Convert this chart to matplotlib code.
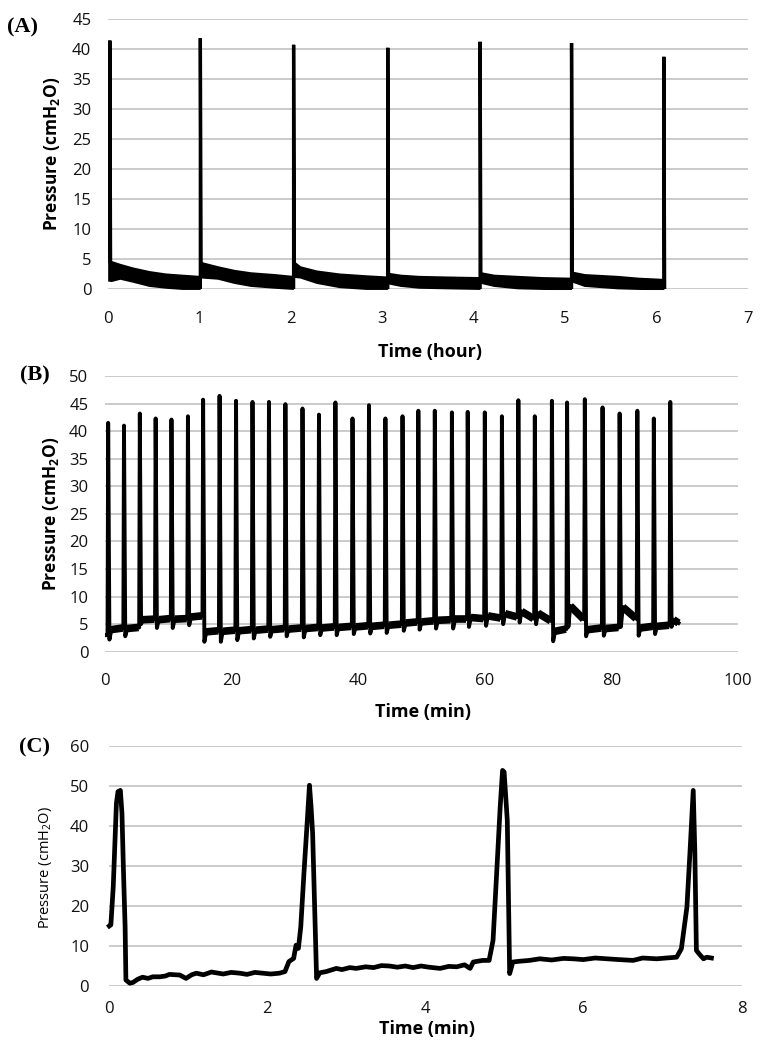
import numpy as np
import matplotlib.pyplot as plt

plt.rcParams['font.family'] = ['Open Sans', 'DejaVu Sans']

# ---- (A) pressure over 6 hours, one spike per hour ----
a_spike_t = [0.02, 1.01, 2.03, 3.06, 4.07, 5.07, 6.08]
a_peak = [41.4, 41.8, 40.7, 40.2, 41.2, 41.0, 38.7]
# noisy baseline after each spike: sample times, upper and lower edge of the trace
a_band_t = [
    [0.03, 0.13, 0.27, 0.45, 0.63, 0.81, 1.00],
    [1.02, 1.20, 1.38, 1.56, 1.82, 2.02],
    [2.04, 2.10, 2.28, 2.53, 2.82, 3.05],
    [3.07, 3.20, 3.40, 3.70, 4.06],
    [4.08, 4.22, 4.48, 4.75, 5.06],
    [5.08, 5.21, 5.57, 5.80, 6.07],
]
a_band_hi = [
    [4.6, 4.1, 3.5, 2.9, 2.5, 2.3, 2.1],
    [4.4, 3.7, 3.1, 2.7, 2.4, 2.1],
    [4.4, 3.7, 3.0, 2.5, 2.2, 2.0],
    [2.6, 2.3, 2.1, 2.0, 1.9],
    [2.7, 2.3, 2.1, 1.9, 1.8],
    [2.8, 2.4, 2.1, 1.8, 1.6],
]
a_band_lo = [
    [1.4, 1.8, 1.3, 0.6, 0.3, 0.1, 0.1],
    [2.0, 1.8, 1.1, 0.6, 0.3, 0.1],
    [2.1, 2.0, 1.1, 0.4, 0.1, 0.1],
    [1.0, 0.6, 0.3, 0.2, 0.1],
    [1.1, 0.6, 0.2, 0.1, 0.05],
    [1.3, 0.6, 0.2, 0.1, 0.05],
]

# ---- (B) 90 min recording, one spike every ~2.6 min ----
b_spike_t = [0.4, 2.9, 5.4, 7.9, 10.4, 13.0, 15.4, 18.0, 20.6, 23.2,
             25.8, 28.4, 31.1, 33.7, 36.3, 39.0, 41.6, 44.2, 46.9, 49.4,
             52.0, 54.7, 57.2, 59.9, 62.6, 65.2, 67.8, 70.5, 72.9, 75.7,
             78.5, 81.2, 84.0, 86.6, 89.2]
b_peak = [41.5, 41.0, 43.2, 42.3, 42.1, 42.7, 45.7, 46.4, 45.5, 45.3,
          45.3, 44.9, 44.1, 43.0, 45.2, 42.3, 44.7, 42.3, 42.7, 43.7,
          43.7, 43.4, 43.5, 43.4, 42.7, 45.6, 42.7, 45.5, 45.2, 45.8,
          44.3, 43.2, 43.7, 42.3, 45.3]
b_dip = [2.2, 2.8, 5.0, 4.3, 4.3, 4.8, 1.8, 1.8, 2.1, 2.4,
         2.7, 2.8, 2.6, 3.0, 3.0, 3.2, 3.3, 3.4, 3.8, 4.0,
         4.2, 4.2, 4.5, 4.7, 5.0, 5.3, 5.0, 1.9, 4.5, 2.8,
         2.9, 4.5, 2.9, 3.2, 4.5]
b_base_start = [4.0, 4.2, 5.8, 5.8, 5.9, 6.3, 3.6, 3.7, 3.8, 3.9,
                4.0, 4.1, 4.2, 4.3, 4.4, 4.5, 4.6, 4.8, 5.2, 5.4,
                5.7, 5.9, 6.2, 6.5, 6.9, 7.3, 7.0, 3.7, 8.3, 4.0,
                4.2, 8.1, 4.3, 4.6, 5.8]
b_base_end = [4.3, 4.4, 5.9, 6.0, 6.0, 6.5, 3.8, 3.9, 4.0, 4.1,
              4.2, 4.3, 4.4, 4.5, 4.6, 4.7, 4.8, 5.0, 5.4, 5.6,
              5.8, 5.9, 6.0, 6.1, 6.3, 6.0, 5.6, 4.1, 5.9, 4.3,
              4.4, 6.0, 4.6, 4.8, 5.2]
b_t_end = 90.7

# ---- (C) 7.6 min close-up ----
c_time = [0.01, 0.03, 0.06, 0.10, 0.12, 0.15, 0.17, 0.19, 0.21, 0.22,
          0.27, 0.31, 0.37, 0.43, 0.50, 0.56, 0.65, 0.72, 0.77, 0.85,
          0.90, 0.98, 1.05, 1.11, 1.20, 1.30, 1.36, 1.45, 1.55, 1.66,
          1.75, 1.85, 1.95, 2.05, 2.16, 2.23, 2.28, 2.34, 2.37, 2.40,
          2.43, 2.47, 2.51, 2.54, 2.56, 2.58, 2.63, 2.67, 2.75, 2.88,
          2.95, 3.05, 3.13, 3.25, 3.35, 3.45, 3.55, 3.65, 3.75, 3.85,
          3.95, 4.05, 4.19, 4.30, 4.40, 4.50, 4.57, 4.61, 4.73, 4.81,
          4.86, 4.91, 4.95, 4.98, 5.00, 5.04, 5.07, 5.11, 5.20, 5.32,
          5.45, 5.60, 5.75, 5.87, 6.00, 6.15, 6.30, 6.45, 6.63, 6.75,
          6.93, 7.05, 7.18, 7.24, 7.31, 7.35, 7.39, 7.41, 7.43, 7.47,
          7.52, 7.56, 7.62]
c_pressure = [15.0, 15.3, 24.8, 45.7, 48.6, 48.9, 43.2, 28.2, 14.8, 1.5,
              0.7, 0.9, 1.7, 2.2, 1.9, 2.3, 2.3, 2.5, 2.9, 2.8,
              2.75, 1.9, 2.8, 3.2, 2.8, 3.5, 3.3, 3.0, 3.4, 3.2,
              2.9, 3.4, 3.2, 3.0, 3.2, 3.6, 6.1, 6.9, 10.2, 9.4,
              14.8, 28.2, 40.6, 50.2, 44.8, 38.1, 1.9, 3.3, 3.6, 4.4,
              4.1, 4.6, 4.4, 4.8, 4.6, 5.1, 5.0, 4.7, 5.0, 4.6,
              5.0, 4.7, 4.4, 4.9, 4.8, 5.3, 4.4, 6.0, 6.4, 6.4,
              11.4, 29.8, 44.7, 53.9, 53.5, 41.4, 3.1, 6.0, 6.2, 6.4,
              6.8, 6.5, 6.9, 6.8, 6.6, 7.0, 6.8, 6.6, 6.4, 7.0,
              6.8, 7.0, 7.2, 9.3, 19.7, 33.9, 48.9, 33.9, 8.9, 7.9,
              6.8, 7.2, 7.0]

W, H = 767, 1050
fig = plt.figure(figsize=(W / 100, H / 100), dpi=100)


def px_axes(left, top, right, bottom):
    # axes from pixel box of the reference
    return fig.add_axes([left / W, 1 - bottom / H, (right - left) / W, (bottom - top) / H])


def style(ax, xmax, xstep, ymax, ystep, xpad, ypad):
    ax.set_xlim(0, xmax)
    ax.set_ylim(0, ymax)
    ax.set_xticks(np.arange(0, xmax + xstep / 2, xstep))
    ax.set_yticks(np.arange(0, ymax + ystep / 2, ystep))
    for s in ax.spines.values():
        s.set_visible(False)
    ax.grid(axis='y', color='#bdbdbd', lw=1.1)
    ax.set_axisbelow(True)
    ax.tick_params(axis='x', length=0, labelsize=12, pad=xpad, colors='#111111')
    ax.tick_params(axis='y', length=0, labelsize=12, pad=ypad, colors='#111111')


ylab = 'Pressure (cmH$_\\mathregular{2}$O)'

# (A)
axA = px_axes(108, 19, 748, 289)
style(axA, 7, 1, 45, 5, 16, 12)
prev_lo = 1.5
for k, s in enumerate(a_spike_t):
    if k < len(a_band_t):
        nxt = a_band_hi[k][0]
    else:
        nxt = 0.0
    axA.plot([s, s, s + 0.008], [prev_lo, a_peak[k], nxt], color='k', lw=2.4, solid_joinstyle='miter')
    if k < len(a_band_t):
        axA.fill_between(a_band_t[k], a_band_lo[k], a_band_hi[k], color='k', lw=1.5, edgecolor='k')
        prev_lo = a_band_lo[k][-1]

# (B)
axB = px_axes(105, 376, 738, 651.7)
style(axB, 100, 20, 50, 5, 15, 12)
bt, bp = [0.15], [3.0]
for k, s in enumerate(b_spike_t):
    t_next = b_spike_t[k + 1] if k + 1 < len(b_spike_t) else b_t_end
    bt += [s, s + 0.1, s + 0.3, s + 0.6, t_next - 0.1]
    bp += [b_base_end[k - 1] if k > 0 else 3.0, b_peak[k], b_dip[k], b_base_start[k], b_base_end[k]]
    # the noisy baseline reads as a thicker band
    axB.plot([s + 0.6, t_next - 0.1], [b_base_start[k], b_base_end[k]], color='k', lw=5.5,
             solid_capstyle='butt')
axB.plot(bt, bp, color='k', lw=2.8, solid_joinstyle='round')

# (C)
axC = px_axes(108.5, 746, 741.5, 986)
style(axC, 8, 2, 60, 10, 11, 14)
axC.plot(c_time, c_pressure, color='k', lw=3.4, solid_joinstyle='round', clip_on=False)

# labels
def ftext(x, y, s, **kw):
    fig.text(x / W, 1 - y / H, s, ha='center', va='center', **kw)


ftext(52, 154, ylab, rotation=90, fontsize=12.5, fontweight='bold')
ftext(51, 514, ylab, rotation=90, fontsize=12.5, fontweight='bold')
ftext(45, 867, ylab, rotation=90, fontsize=10.5)
ftext(430, 352, 'Time (hour)', fontsize=13, fontweight='bold')
ftext(423, 712, 'Time (min)', fontsize=13, fontweight='bold')
ftext(427, 1029, 'Time (min)', fontsize=13, fontweight='bold')

for lbl, x, y in [('(A)', 7, 27), ('(B)', 20, 375), ('(C)', 19, 747)]:
    fig.text(x / W, 1 - y / H, lbl, ha='left', va='center', fontsize=16,
             fontweight='bold', family='Liberation Serif')

fig.savefig('out.png', dpi=100)
